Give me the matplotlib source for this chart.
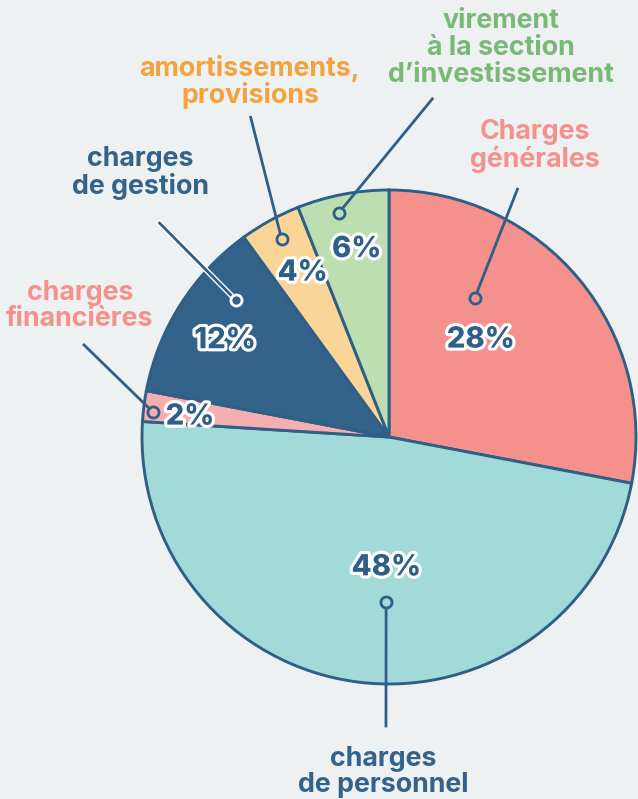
import numpy as np
import matplotlib.pyplot as plt
import matplotlib.patheffects as pe

plt.rcParams['font.family'] = ['Inter', 'DejaVu Sans']

labels = ['Charges\ngénérales', 'charges\nde personnel', 'charges\nfinancières',
          'charges\nde gestion', 'amortissements,\nprovisions',
          'virement\nà la section\nd\u2019investissement']
values = [28, 48, 2, 12, 4, 6]
pct_labels = ['28%', '48%', '2%', '12%', '4%', '6%']
slice_colors = ['#f4918c', '#a2d9d9', '#f6afb1', '#33628a', '#f9d597', '#bcdeb0']
text_colors = ['#f4918c', '#33628a', '#f4918c', '#33628a', '#f4a23c', '#7ab878']

# layout (pixel units; text positions measured from the top)
W, H = 638, 799
cx, cy, R = 389, 362, 247
pct_r = [0.54, 0.53, 0.81, 0.77, 0.75, 0.77]
pct_da = [-7, -6, -1.5, -2, 1, 1]
dot = [(31.7, 0.66), (181, 0.67), (276, 0.96), (311.8, 0.83), (331.5, 0.91), (347.4, 0.93)]
tip = [(27.4, 1.13), (180.6, 1.17), (286.8, 1.29), (313, 1.27), (336.6, 1.41), (7.3, 1.38)]
text_xy = [(535, 146), (383, 772), (80, 306), (140, 173), (250, 82), (501, 48)]

dark = '#2f5f87'

fig = plt.figure(figsize=(W / 100, H / 100), dpi=100)
fig.patch.set_facecolor('#eef1f2')
ax = fig.add_axes([0, 0, 1, 1])

wedges, _ = ax.pie(values, colors=slice_colors, startangle=90, counterclock=False,
                   center=(cx, cy), radius=R,
                   wedgeprops=dict(edgecolor=dark, linewidth=2.1))
ax.set_xlim(0, W)
ax.set_ylim(0, H)
ax.set_aspect('equal')
ax.axis('off')


def pt(a, r):
    # a: degrees clockwise from top
    t = np.radians(a)
    return cx + r * R * np.sin(t), cy + r * R * np.cos(t)


start = 0
for i, v in enumerate(values):
    mid = start + v * 3.6 / 2
    start += v * 3.6
    x, y = pt(mid + pct_da[i], pct_r[i])
    ax.text(x, y, pct_labels[i], ha='center', va='center', fontsize=21,
            fontweight='heavy', color=dark, zorder=6,
            path_effects=[pe.withStroke(linewidth=4.5, foreground='white')])

    x0, y0 = pt(*dot[i])
    x1, y1 = pt(*tip[i])
    eff = [pe.withStroke(linewidth=4, foreground='white')] if i == 3 else None
    ax.plot([x0, x1], [y0, y1], color=dark, lw=2, zorder=4, path_effects=eff)
    ax.plot(x0, y0, 'o', ms=8, mfc=slice_colors[i], mec=dark if i != 3 else 'white',
            mew=2, zorder=5)

    tx, ty = text_xy[i]
    ax.text(tx, H - ty, labels[i], ha='center', va='center', fontsize=19.3,
            fontweight='bold', color=text_colors[i], linespacing=1.03)

fig.savefig('out.png', dpi=100, facecolor=fig.get_facecolor())
